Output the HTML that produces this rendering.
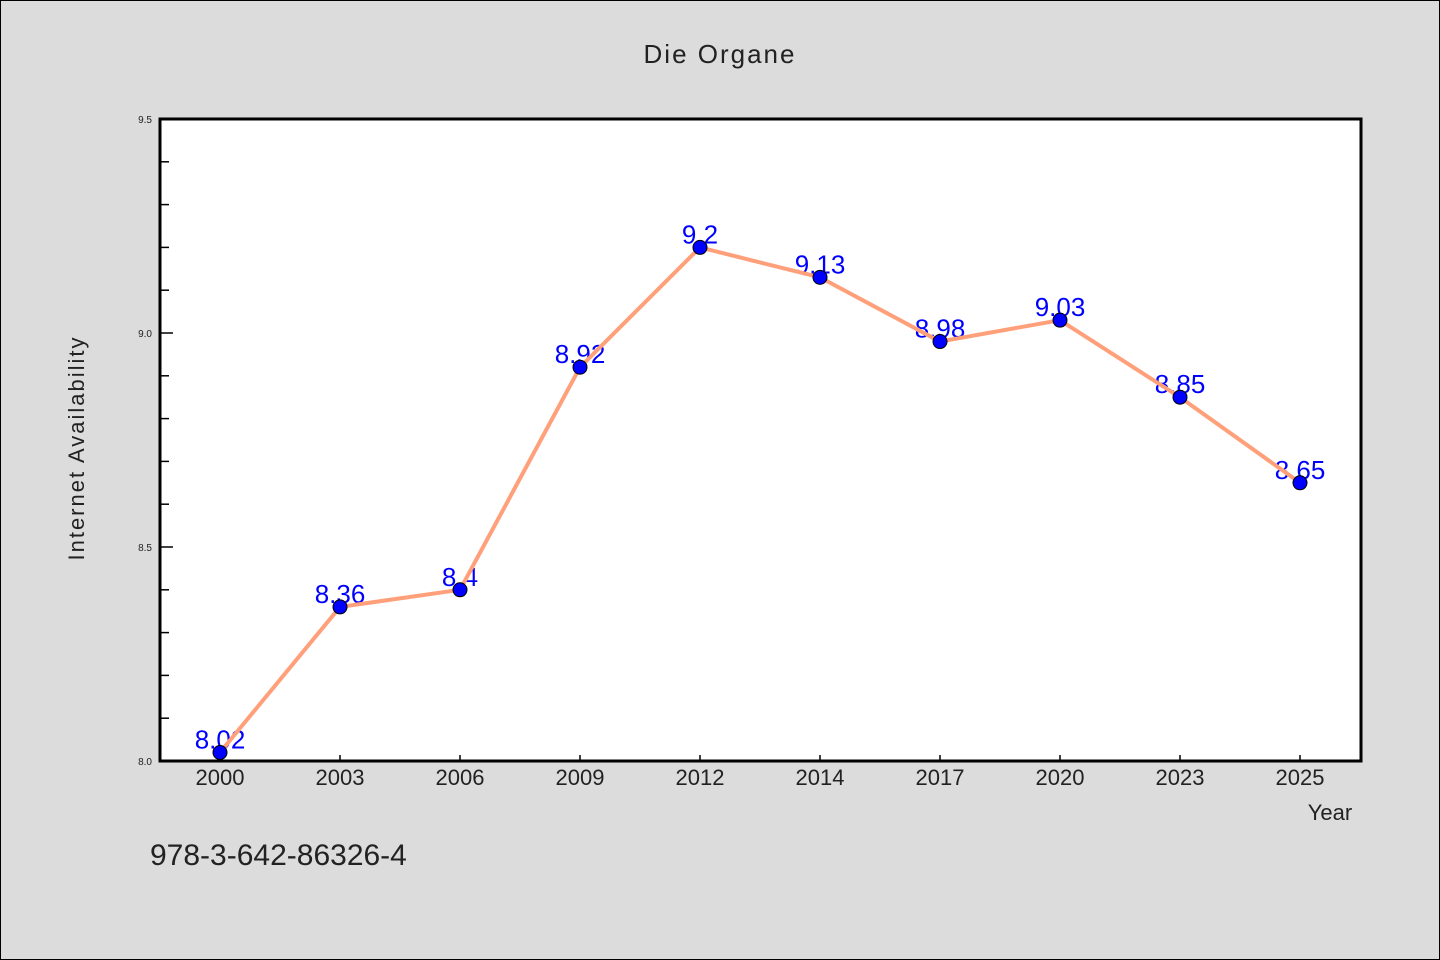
<!DOCTYPE html>
<html><head><meta charset="utf-8"><style>
html,body{margin:0;padding:0;background:#dcdcdc;}
svg{display:block;font-family:"WenQuanYi Zen Hei","Liberation Sans",sans-serif;}
</style></head><body>
<svg id="chart" width="1440" height="960">
<rect x="0.5" y="0.5" width="1439" height="959" fill="#dcdcdc" stroke="#000"/>
<text x="720" y="63" text-anchor="middle" font-size="26" fill="#222" letter-spacing="2">Die Organe</text>
<rect x="160" y="119" width="1201" height="642" fill="#fff"/>
<g id="axes"></g>
<g id="labels"></g>
<g id="series"></g>
<rect x="160" y="119" width="1201" height="642" fill="none" stroke="#000" stroke-width="3"/>
<text x="1330" y="820" text-anchor="middle" font-size="22" fill="#222">Year</text>
<text transform="translate(84,448) rotate(-90)" text-anchor="middle" font-size="22" fill="#222" letter-spacing="2">Internet Availability</text>
<text x="150" y="865" font-size="30" fill="#222">978-3-642-86326-4</text>
</svg>
<script>
const categories=["2000","2003","2006","2009","2012","2014","2017","2020","2023","2025"];
const values=[8.02,8.36,8.4,8.92,9.2,9.13,8.98,9.03,8.85,8.65];
const yTickLabels=["8.0","8.5","9.0","9.5"];
const NS="http://www.w3.org/2000/svg";
const L=160,R=1360,T=119,B=761,yMin=8.0,yMax=9.5;
const xs=i=>L+(R-L)/categories.length*(i+0.5);
const ys=v=>B-(v-yMin)/(yMax-yMin)*(B-T);
function mk(t,a,p){const e=document.createElementNS(NS,t);for(const k in a)e.setAttribute(k,a[k]);p.appendChild(e);return e;}
const ax=document.getElementById('axes'),lb=document.getElementById('labels'),se=document.getElementById('series');
for(let k=0;k<=15;k++){const v=yMin+k*0.1;const y=ys(v);const major=k%5===0;
 const t=mk('line',{x1:160,x2:major?173:169,y1:y,y2:y,stroke:'#000','stroke-width':1.5},ax);
 
 }
yTickLabels.forEach(s=>{const e=mk('text',{x:152,y:ys(parseFloat(s))+4,'text-anchor':'end','font-size':10,fill:'#222'},ax);e.textContent=s;
 
 });
categories.forEach((c,i)=>{const x=xs(i);
 const t=mk('line',{x1:x,x2:x,y1:B,y2:B-6,stroke:'#000','stroke-width':1.5},ax);
 
 
 const e=mk('text',{x:x,y:785,'text-anchor':'middle','font-size':22,fill:'#222'},ax);e.textContent=c;
 
 });
values.forEach((v,i)=>{const e=mk('text',{x:xs(i),y:ys(v)-4,'text-anchor':'middle','font-size':26,fill:'#0000ff'},lb);e.textContent=String(v);
 
 });
const pl=mk('polyline',{points:values.map((v,i)=>xs(i)+','+ys(v)).join(' '),fill:'none',stroke:'#ffa07a','stroke-width':4,'stroke-linejoin':'round'},se);


values.forEach((v,i)=>{const c=mk('circle',{cx:xs(i),cy:ys(v),r:7,fill:'#0000ff',stroke:'#000','stroke-width':1},se);
 
 });
</script>
</body></html>
